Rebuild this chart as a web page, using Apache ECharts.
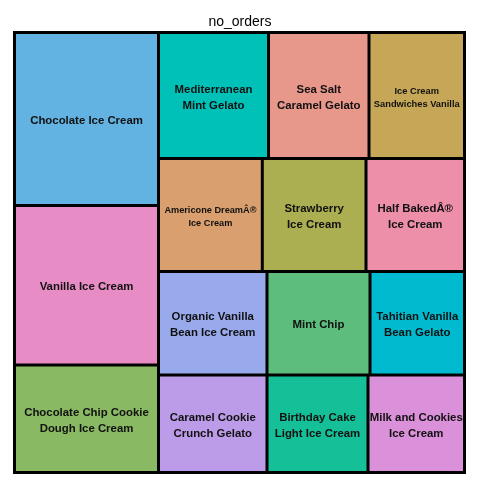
<!DOCTYPE html>
<html>
<head>
<meta charset="utf-8">
<script src="https://cdn.jsdelivr.net/npm/echarts@6/dist/echarts.min.js"></script>
<style>html,body{margin:0;padding:0;background:#fff;}#main{width:480px;height:480px;}</style>
</head>
<body>
<div id="main"></div>
<script>
// ---- data ----
const names = [
  'Chocolate Ice Cream', 'Vanilla Ice Cream', 'Chocolate Chip Cookie Dough Ice Cream',
  'Mediterranean Mint Gelato', 'Sea Salt Caramel Gelato', 'Ice Cream Sandwiches Vanilla',
  'Americone DreamÂ® Ice Cream', 'Strawberry Ice Cream', 'Half BakedÂ® Ice Cream',
  'Organic Vanilla Bean Ice Cream', 'Mint Chip', 'Tahitian Vanilla Bean Gelato',
  'Caramel Cookie Crunch Gelato', 'Birthday Cake Light Ice Cream', 'Milk and Cookies Ice Cream'
];
const labels = [
  'Chocolate Ice Cream', 'Vanilla Ice Cream', 'Chocolate Chip Cookie\nDough Ice Cream',
  'Mediterranean\nMint Gelato', 'Sea Salt\nCaramel Gelato', 'Ice Cream\nSandwiches Vanilla',
  'Americone DreamÂ®\nIce Cream', 'Strawberry\nIce Cream', 'Half BakedÂ®\nIce Cream',
  'Organic Vanilla\nBean Ice Cream', 'Mint Chip', 'Tahitian Vanilla\nBean Gelato',
  'Caramel Cookie\nCrunch Gelato', 'Birthday Cake\nLight Ice Cream', 'Milk and Cookies\nIce Cream'
];
const noOrders = [2491, 2297, 1548, 1386, 1266, 1203, 1173, 1172, 1113, 1123, 1066, 978, 1058, 985, 941];
const colors = [
  '#62B2E2', '#E88CC6', '#89B962',
  '#00C1B8', '#E8978B', '#C6A757',
  '#DA9F6E', '#ABAF52', '#EE8FAA',
  '#98A9EC', '#5CBD7C', '#00BBD0',
  '#BC9BE8', '#15BF98', '#DB90DA'
];

// ---- styling ----
const baseFont = 11.4;
const smallFont = {5: 9.3, 6: 9.2};

function leaf(i) {
  const fs = smallFont[i] || baseFont;
  return {
    name: names[i],
    value: noOrders[i],
    itemStyle: {color: colors[i], borderColor: '#000', borderWidth: 1.5},
    label: {formatter: labels[i], fontSize: fs, lineHeight: Math.round(fs * 1.4)}
  };
}
function group(name, children) {
  return {name: name, children: children, itemStyle: {borderWidth: 0, gapWidth: 0, borderColor: '#000'}};
}

// nesting that reproduces the reference's slice order
const treeData = [
  group('left', [leaf(0), leaf(1), leaf(2)]),
  group('right', [
    group('row1', [leaf(3), leaf(4), leaf(5)]),
    group('rest1', [
      group('row2', [leaf(6), leaf(7), leaf(8)]),
      group('rest2', [
        group('colA', [leaf(9), leaf(12)]),
        group('rest3', [
          group('row3', [leaf(10), leaf(11)]),
          group('row4', [leaf(13), leaf(14)])
        ])
      ])
    ])
  ])
];

const chart = echarts.init(document.getElementById('main'), null, {renderer: 'canvas'});
chart.setOption({
  animation: false,
  title: {
    text: 'no_orders', left: 'center', top: 10,
    textStyle: {fontSize: 14, fontWeight: 'normal', color: '#000', fontFamily: 'Liberation Sans'}
  },
  series: [{
    type: 'treemap',
    left: 13, top: 31, width: 453, height: 443,
    roam: false, nodeClick: false,
    sort: false,
    squareRatio: 1,
    breadcrumb: {show: false},
    visibleMin: 0,
    itemStyle: {borderWidth: 0, gapWidth: 0, borderColor: '#000'},
    levels: [{itemStyle: {borderWidth: 1.5, gapWidth: 0, borderColor: '#000'}}],
    label: {
      show: true, position: 'inside', align: 'center', verticalAlign: 'middle',
      padding: 0, overflow: 'none', offset: [0, 2],
      color: '#111', fontWeight: 'bold', fontFamily: 'Liberation Sans'
    },
    upperLabel: {show: false},
    emphasis: {disabled: true},
    data: treeData
  }]
});
</script>
</body>
</html>
